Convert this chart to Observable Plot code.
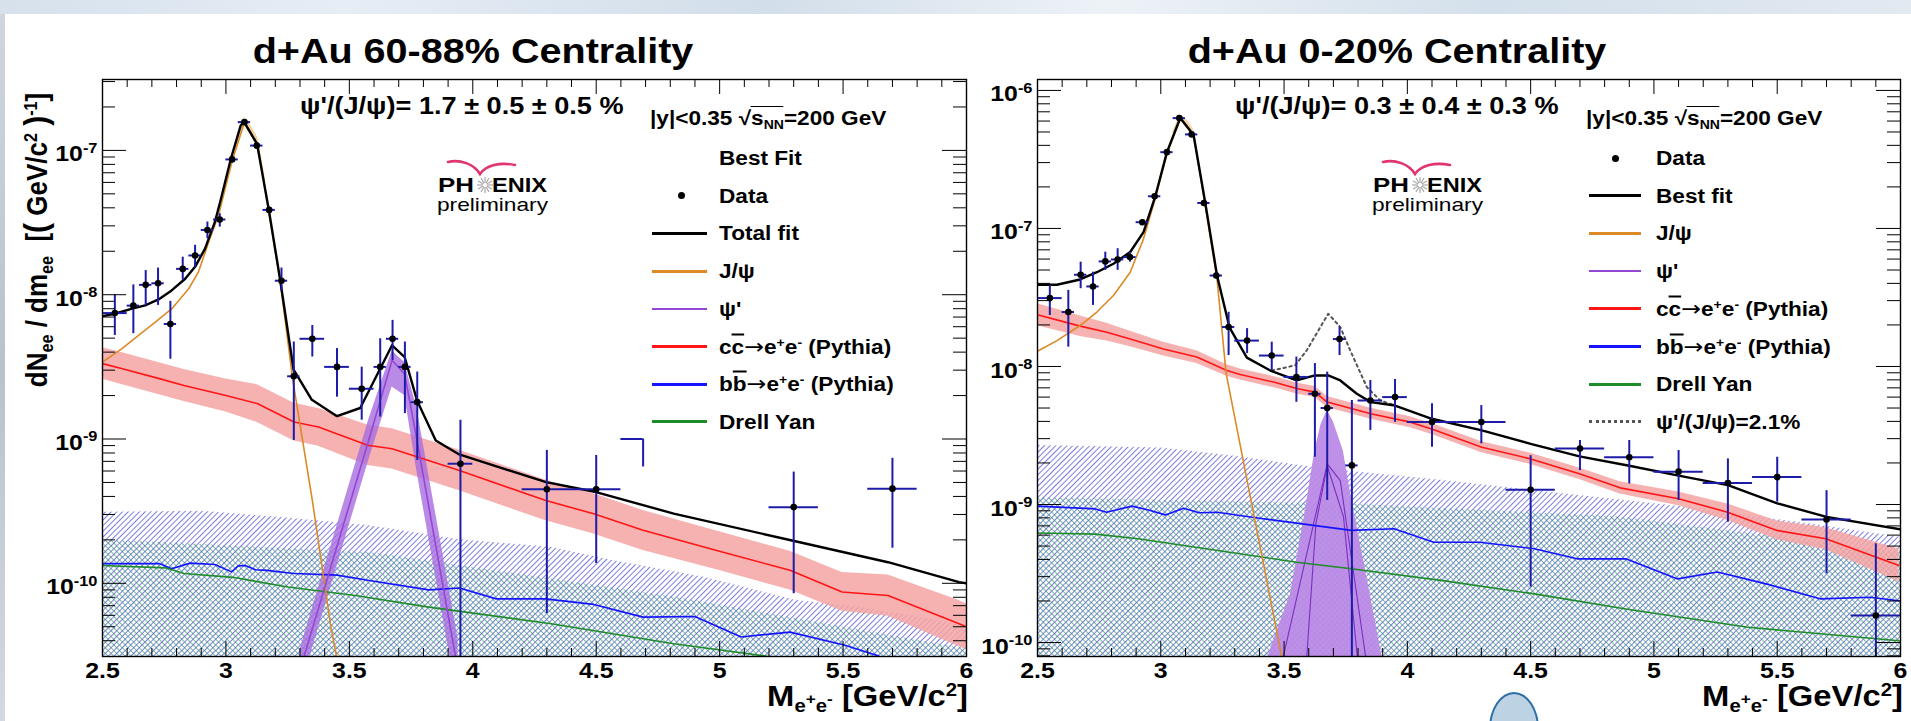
<!DOCTYPE html>
<html>
<head>
<meta charset="utf-8">
<title>d+Au dielectron invariant mass spectra</title>
<script src="https://cdn.jsdelivr.net/npm/d3@7"></script>
<script src="https://cdn.jsdelivr.net/npm/@observablehq/plot@0.6"></script>
<style>
  html, body { margin: 0; padding: 0; background: #fff; }
  #stage { position: relative; width: 1911px; height: 721px; overflow: hidden; background: #fff;
    font-family: "Liberation Sans", Arial, Helvetica, sans-serif; color: #000; }
  .lbl { position: absolute; white-space: nowrap; line-height: 1; }
  .sub { font-size: 0.62em; position: relative; top: 0.32em; }
  .sup { font-size: 0.62em; position: relative; top: -0.55em; }
  .ss { font-size: 0.85em; position: relative; top: -0.5em; }
  .ob { text-decoration: overline; text-decoration-thickness: 0.08em; }
  .arr { font-family: "DejaVu Sans", sans-serif; font-weight: normal; font-size: 1.05em; }
  .root { border-top: 0.08em solid #000; padding-top: 0.02em; }
  .host { position: absolute; top: 0; }
  .sw { position: absolute; height: 0; }
  .dotm { position: absolute; width: 7px; height: 7px; border-radius: 50%; background: #000; }
  #topband { position: absolute; left: 0; top: 0; width: 1911px; height: 14px;
    background: linear-gradient(90deg, #d6e1ec 0%, #e6edf5 18%, #d2deea 40%, #edf2f7 58%, #d4e0eb 78%, #e2e9f1 100%); }
  #leftedge { position: absolute; left: 0; top: 14px; width: 5px; height: 707px;
    background: linear-gradient(180deg, #cfd6de, #b9c2cc 50%, #d3d9e0); }
  #balloon { position: absolute; left: 1489px; top: 692px; width: 46px; height: 70px; border-radius: 50%;
    border: 2px solid #2f6ea6; background: #bdd3e4; }
</style>
</head>
<body>
<div id="stage">
  <div id="topband"></div>
  <div id="leftedge"></div>
  <div id="balloon"></div>
  <svg width="0" height="0" style="position:absolute">
    <defs>
      <pattern id="hatchBB" patternUnits="userSpaceOnUse" width="4" height="4" patternTransform="rotate(45)">
        <line x1="0" y1="0" x2="0" y2="4" stroke="#4a4ad2" stroke-width="1.45"/>
      </pattern>
      <pattern id="hatchDY" patternUnits="userSpaceOnUse" width="4" height="4" patternTransform="rotate(-45)">
        <line x1="0" y1="0" x2="0" y2="4" stroke="#2f9470" stroke-width="1.3"/>
      </pattern>
    </defs>
  </svg>
</div>
<script>
// ---------------- axes ----------------
const massDomain = [2.5, 6];
const massTickLabels = [2.5, 3, 3.5, 4, 4.5, 5, 5.5, 6];
const periphYDomain = [3.11e-11, 3.1e-7];
const centralYDomain = [7.92e-11, 1.2e-6];
const periphDecades = [1e-10, 1e-9, 1e-8, 1e-7];
const centralDecades = [1e-10, 1e-9, 1e-8, 1e-7, 1e-6];

// ---------------- d+Au 60-88% ----------------
const periphMass = [2.55, 2.625, 2.675, 2.725, 2.775, 2.825, 2.875, 2.925, 2.975, 3.025, 3.075, 3.125, 3.175, 3.225,
  3.275, 3.35, 3.45, 3.55, 3.625, 3.675, 3.725, 3.775, 3.95, 4.3, 4.5, 5.3, 5.7];
const periphHalfBin = [0.05, 0.025, 0.025, 0.025, 0.025, 0.025, 0.025, 0.025, 0.025, 0.025, 0.025, 0.025, 0.025, 0.025,
  0.025, 0.05, 0.05, 0.05, 0.025, 0.025, 0.025, 0.025, 0.05, 0.1, 0.1, 0.1, 0.1];
const periphYield = [7.46e-9, 8.4e-9, 1.17e-8, 1.2e-8, 6.27e-9, 1.51e-8, 1.87e-8, 2.81e-8, 3.32e-8, 8.66e-8, 1.57e-7, 1.08e-7, 3.87e-8, 1.25e-8,
  2.72e-9, 4.95e-9, 3.16e-9, 2.23e-9, 3.16e-9, 4.95e-9, 3.16e-9, 1.8e-9, 6.74e-10, 4.48e-10, 4.48e-10, 3.37e-10, 4.53e-10];
const periphLow = [5.22e-9, 5.37e-9, 8.43e-9, 8.43e-9, 3.57e-9, 1.26e-8, 1.55e-8, 2.44e-8, 2.94e-8, 8.3e-8, 1.52e-7, 1.04e-7, 3.74e-8, 1.06e-8,
  9.77e-10, 3.7e-9, 1.95e-9, 1.35e-9, 1.42e-9, 3.5e-9, 1.5e-9, 7.1e-10, 1e-11, 6.17e-11, 1.37e-10, 8.47e-11, 1.75e-10];
const periphHigh = [1.0e-8, 1.17e-8, 1.47e-8, 1.53e-8, 9.0e-9, 1.82e-8, 2.2e-8, 3.19e-8, 3.64e-8, 9.0e-8, 1.62e-7, 1.12e-7, 4.05e-8, 1.53e-8,
  4.7e-9, 6.12e-9, 4.23e-9, 3.15e-9, 4.95e-9, 6.64e-9, 4.7e-9, 2.91e-9, 1.35e-9, 8.34e-10, 7.69e-10, 5.9e-10, 7.35e-10];
// partially drawn error bar: [x1, x2, y, yLow]
const periphStrayBar = [[4.6, 4.69, 1.0e-9, 6.4e-10]];

const periphTotalFit = [[2.5, 7.1e-9], [2.55, 7.38e-9], [2.62, 8.0e-9], [2.673, 8.43e-9], [2.727, 9.27e-9], [2.78, 1.07e-8],
  [2.835, 1.29e-8], [2.875, 1.56e-8], [2.915, 2.08e-8], [2.955, 3.18e-8], [2.98, 4.62e-8], [3.02, 8.75e-8], [3.06, 1.49e-7],
  [3.074, 1.57e-7], [3.126, 1.11e-7], [3.173, 3.94e-8], [3.22, 1.26e-8], [3.274, 3.02e-9], [3.348, 1.87e-9], [3.45, 1.44e-9],
  [3.544, 1.64e-9], [3.673, 4.46e-9], [3.724, 3.7e-9], [3.774, 1.85e-9], [3.85, 9.77e-10], [3.945, 7.82e-10], [4.297, 5.02e-10],
  [4.499, 4.29e-10], [4.814, 3.04e-10], [5.293, 1.98e-10], [5.682, 1.4e-10], [5.97, 1.02e-10], [6.0, 1.0e-10]];
const periphJpsi = [[2.5, 3.41e-9], [2.579, 4.23e-9], [2.646, 5.22e-9], [2.714, 6.46e-9], [2.781, 8.0e-9], [2.849, 1.1e-8],
  [2.889, 1.44e-8], [2.93, 2.32e-8], [2.97, 3.55e-8], [3.024, 8.3e-8], [3.074, 1.55e-7], [3.13, 1.07e-7], [3.173, 3.8e-8],
  [3.22, 1.23e-8], [3.271, 2.55e-9], [3.35, 3.76e-10], [3.425, 5.0e-11], [3.47, 2.0e-11]];
const periphJpsiBand = [[3.04, 1.0e-7, 1.12e-7], [3.074, 1.52e-7, 1.7e-7], [3.1, 1.28e-7, 1.5e-7], [3.13, 1.05e-7, 1.22e-7], [3.16, 5.6e-8, 6.4e-8]];
const periphPsi2 = [[3.3, 2.5e-11], [3.578, 9.77e-10], [3.673, 3.51e-9], [3.724, 2.82e-9], [3.774, 9.77e-10], [3.94, 2.5e-11]];
const periphPsi2Band = [[3.3, 1.82e-11, 3.47e-11], [3.578, 7.08e-10, 1.35e-9], [3.673, 2.29e-9, 4.07e-9], [3.724, 2.0e-9, 3.39e-9],
  [3.774, 5.9e-10, 1.62e-9], [3.94, 1.51e-11, 4.17e-11]];
const periphCharm = [[2.5, 3.33e-9], [2.581, 3.07e-9], [2.73, 2.62e-9], [2.83, 2.35e-9], [3.0, 2.0e-9], [3.127, 1.76e-9],
  [3.276, 1.31e-9], [3.375, 1.21e-9], [3.574, 9.04e-10], [3.673, 8.57e-10], [3.946, 6.05e-10], [4.293, 3.76e-10], [4.49, 3.03e-10],
  [4.69, 2.33e-10], [4.988, 1.69e-10], [5.285, 1.23e-10], [5.496, 8.7e-11], [5.682, 8.24e-11], [5.97, 5.25e-11], [6.0, 5.0e-11]];
const periphCharmBand = [[2.5, 2.59e-9, 4.29e-9], [2.581, 2.38e-9, 3.96e-9], [2.73, 2.03e-9, 3.37e-9], [2.83, 1.82e-9, 3.03e-9],
  [3.0, 1.54e-9, 2.6e-9], [3.127, 1.3e-9, 2.38e-9], [3.276, 9.7e-10, 1.77e-9], [3.375, 8.9e-10, 1.63e-9], [3.574, 6.55e-10, 1.25e-9],
  [3.673, 6.2e-10, 1.18e-9], [3.946, 4.38e-10, 8.35e-10], [4.293, 2.72e-10, 5.19e-10], [4.49, 2.2e-10, 4.18e-10], [4.69, 1.69e-10, 3.2e-10],
  [4.988, 1.24e-10, 2.3e-10], [5.285, 9.0e-11, 1.67e-10], [5.496, 6.4e-11, 1.19e-10], [5.682, 5.9e-11, 1.14e-10], [5.97, 3.63e-11, 7.6e-11],
  [6.0, 3.46e-11, 7.2e-11]];
const periphBottom = [[2.5, 1.37e-10], [2.73, 1.37e-10], [2.78, 1.26e-10], [2.855, 1.38e-10], [2.955, 1.35e-10], [3.023, 1.2e-10],
  [3.05, 1.32e-10], [3.078, 1.33e-10], [3.12, 1.24e-10], [3.165, 1.23e-10], [3.276, 1.17e-10], [3.45, 1.14e-10], [3.574, 1.05e-10],
  [3.822, 9.0e-11], [3.946, 9.27e-11], [4.095, 7.8e-11], [4.293, 7.8e-11], [4.49, 7.14e-11], [4.69, 5.83e-11], [4.9, 5.89e-11],
  [5.087, 4.25e-11], [5.285, 4.59e-11], [5.508, 3.72e-11], [5.645, 3.13e-11], [5.75, 2.5e-11]];
const periphDrellYan = [[2.5, 1.33e-10], [2.755, 1.28e-10], [2.83, 1.17e-10], [3.028, 1.1e-10], [3.251, 9.42e-11], [3.524, 8.24e-11],
  [3.822, 6.84e-11], [4.318, 5.25e-11], [4.814, 3.81e-11], [5.186, 3.13e-11], [5.3, 2.8e-11]];
const periphBottomBand = [[2.5, 3.11e-10], [2.9, 3.16e-10], [3.2, 2.88e-10], [3.574, 2.52e-10], [3.946, 2.0e-10], [4.318, 1.78e-10],
  [4.566, 1.44e-10], [4.938, 1.1e-10], [5.31, 7.6e-11], [5.558, 6.84e-11], [5.97, 5.25e-11], [6.0, 5.1e-11]];
const periphDrellYanBand = [[2.5, 2.0e-10], [3.6, 1.62e-10], [4.84, 7.9e-11], [6.0, 3.5e-11]];

// ---------------- d+Au 0-20% ----------------
const centralMass = [2.55, 2.625, 2.675, 2.725, 2.775, 2.825, 2.875, 2.925, 2.975, 3.025, 3.075, 3.125, 3.175, 3.225,
  3.275, 3.35, 3.45, 3.55, 3.625, 3.675, 3.725, 3.775, 3.85, 3.95, 4.1, 4.3, 4.5, 4.7, 4.9, 5.1, 5.3, 5.5, 5.7, 5.9];
const centralHalfBin = [0.05, 0.025, 0.025, 0.025, 0.025, 0.025, 0.025, 0.025, 0.025, 0.025, 0.025, 0.025, 0.025, 0.025,
  0.025, 0.05, 0.05, 0.05, 0.025, 0.025, 0.025, 0.025, 0.05, 0.05, 0.1, 0.1, 0.1, 0.1, 0.1, 0.1, 0.1, 0.1, 0.1, 0.1];
const centralYield = [3.13e-8, 2.48e-8, 4.62e-8, 3.8e-8, 5.77e-8, 5.96e-8, 6.2e-8, 1.11e-7, 1.71e-7, 3.57e-7, 6.3e-7, 4.8e-7, 1.53e-7, 4.56e-8,
  1.93e-8, 1.54e-8, 1.2e-8, 8.4e-9, 6.34e-9, 5.0e-9, 1.58e-8, 1.92e-9, 5.67e-9, 6.0e-9, 3.96e-9, 3.96e-9, 1.28e-9, 2.54e-9,
  2.2e-9, 1.73e-9, 1.43e-9, 1.58e-9, 7.78e-10, 1.57e-10];
const centralLow = [2.34e-8, 1.38e-8, 3.66e-8, 2.77e-8, 4.97e-8, 4.97e-8, 5.7e-8, 1.06e-7, 1.66e-7, 3.47e-7, 6.1e-7, 4.65e-7, 1.48e-7, 4.3e-8,
  1.2e-8, 1.24e-8, 9.35e-9, 5.5e-9, 2.2e-9, 1.07e-9, 1.2e-8, 1e-11, 3.44e-9, 3.94e-9, 2.6e-9, 2.75e-9, 2.52e-10, 1.76e-9,
  1.41e-9, 1.07e-9, 7.44e-10, 1.04e-9, 3.15e-10, 1e-11];
const centralHigh = [3.86e-8, 3.56e-8, 5.7e-8, 4.82e-8, 6.73e-8, 7.13e-8, 6.7e-8, 1.16e-7, 1.76e-7, 3.67e-7, 6.5e-7, 4.95e-7, 1.58e-7, 4.8e-8,
  2.47e-8, 1.88e-8, 1.5e-8, 1.17e-8, 1.05e-8, 9.1e-9, 1.93e-8, 5.67e-9, 7.92e-9, 8.05e-9, 5.37e-9, 5.21e-9, 2.26e-9, 2.91e-9,
  2.91e-9, 2.46e-9, 2.14e-9, 2.2e-9, 1.26e-9, 5.19e-10];

const centralBestFit = [[2.5, 3.91e-8], [2.579, 3.91e-8], [2.673, 4.27e-8], [2.741, 4.82e-8], [2.808, 5.55e-8], [2.876, 6.75e-8],
  [2.93, 9.4e-8], [2.977, 1.69e-7], [3.025, 3.57e-7], [3.079, 6.31e-7], [3.133, 4.76e-7], [3.18, 1.55e-7], [3.228, 4.57e-8],
  [3.279, 1.91e-8], [3.349, 1.16e-8], [3.444, 9.35e-9], [3.551, 7.92e-9], [3.625, 8.61e-9], [3.679, 8.61e-9], [3.728, 7.92e-9],
  [3.795, 6.34e-9], [3.852, 5.52e-9], [3.95, 5.21e-9], [4.099, 4.18e-9], [4.302, 3.44e-9], [4.5, 2.75e-9], [4.698, 2.23e-9],
  [4.9, 1.91e-9], [5.1, 1.62e-9], [5.3, 1.38e-9], [5.5, 1.02e-9], [5.7, 8.13e-10], [6.0, 6.61e-10]];
const centralJpsi = [[2.5, 1.29e-8], [2.579, 1.54e-8], [2.673, 1.98e-8], [2.741, 2.48e-8], [2.808, 3.27e-8], [2.876, 4.82e-8],
  [2.93, 8.41e-8], [2.977, 1.64e-7], [3.025, 3.48e-7], [3.079, 6.24e-7], [3.133, 4.74e-7], [3.18, 1.48e-7], [3.228, 4.32e-8],
  [3.265, 8.91e-9], [3.49, 7.94e-11], [3.51, 5.0e-11]];
const centralJpsiBand = [[3.05, 4.6e-7, 5.1e-7], [3.079, 6.1e-7, 6.7e-7], [3.11, 5.2e-7, 6.0e-7], [3.133, 4.6e-7, 5.2e-7]];
const centralPsi2Band = [[3.4, 5.0e-11], [3.452, 9.77e-11], [3.526, 2.25e-10], [3.586, 8.9e-10], [3.625, 2.45e-9], [3.65, 3.8e-9],
  [3.675, 4.79e-9], [3.7, 3.98e-9], [3.74, 2.45e-9], [3.775, 1.07e-9], [3.849, 2.25e-10], [3.897, 7.94e-11], [3.91, 5.0e-11]];
const centralPsi2Fit = [[3.49, 7.0e-11], [3.565, 2.69e-10], [3.675, 1.97e-9], [3.728, 1.49e-9], [3.835, 7.0e-11]];
const centralPsi2FitAlt = [[3.59, 7.0e-11], [3.629, 7.24e-10], [3.675, 1.91e-9], [3.741, 8.13e-10], [3.8, 7.0e-11]];
const centralPsi2Fixed = [[3.45, 9.33e-9], [3.545, 1.02e-8], [3.592, 1.31e-8], [3.679, 2.41e-8], [3.728, 1.93e-8], [3.768, 1.31e-8],
  [3.836, 7.08e-9], [3.89, 5.67e-9], [3.95, 5.21e-9]];
const centralCharm = [[2.5, 2.37e-8], [2.673, 1.96e-8], [2.781, 1.77e-8], [2.876, 1.58e-8], [3.011, 1.34e-8], [3.146, 1.17e-8],
  [3.268, 9.35e-9], [3.322, 8.75e-9], [3.457, 7.71e-9], [3.551, 6.92e-9], [3.625, 6.52e-9], [3.675, 5.52e-9], [3.852, 4.54e-9],
  [4.012, 3.95e-9], [4.099, 3.53e-9], [4.302, 2.6e-9], [4.5, 2.14e-9], [4.698, 1.67e-9], [4.863, 1.32e-9], [5.1, 1.1e-9],
  [5.299, 8.79e-10], [5.499, 6.49e-10], [5.697, 5.64e-10], [5.994, 3.61e-10]];
const centralCharmBand = [[2.5, 1.97e-8, 2.85e-8], [2.673, 1.65e-8, 2.32e-8], [2.781, 1.53e-8, 2.06e-8], [2.876, 1.39e-8, 1.8e-8],
  [3.011, 1.19e-8, 1.5e-8], [3.146, 1.05e-8, 1.3e-8], [3.268, 8.5e-9, 1.03e-8], [3.322, 7.98e-9, 9.6e-9], [3.457, 7.03e-9, 8.45e-9],
  [3.551, 6.31e-9, 7.58e-9], [3.625, 5.95e-9, 7.15e-9], [3.675, 5.04e-9, 6.05e-9], [3.852, 4.14e-9, 4.98e-9], [4.012, 3.6e-9, 4.33e-9],
  [4.099, 3.22e-9, 3.87e-9], [4.302, 2.37e-9, 2.85e-9], [4.5, 1.95e-9, 2.35e-9], [4.698, 1.52e-9, 1.84e-9], [4.863, 1.19e-9, 1.46e-9],
  [5.1, 9.8e-10, 1.23e-9], [5.299, 7.66e-10, 1.01e-9], [5.499, 5.55e-10, 7.6e-10], [5.697, 4.7e-10, 6.78e-10], [5.994, 2.74e-10, 4.76e-10]];
const centralBottom = [[2.5, 9.73e-10], [2.735, 9.29e-10], [2.78, 8.79e-10], [2.883, 9.73e-10], [2.95, 9.12e-10], [3.019, 8.41e-10],
  [3.093, 9.4e-10], [3.155, 8.71e-10], [3.229, 8.79e-10], [3.37, 8.09e-10], [3.551, 7.33e-10], [3.773, 6.49e-10], [3.946, 6.67e-10],
  [4.107, 5.33e-10], [4.293, 5.33e-10], [4.515, 4.78e-10], [4.688, 4.04e-10], [4.886, 4.04e-10], [5.096, 2.89e-10], [5.257, 3.24e-10],
  [5.455, 2.66e-10], [5.677, 2.07e-10], [5.875, 2.13e-10], [5.994, 2.01e-10]];
const centralDrellYan = [[2.5, 6.21e-10], [2.735, 6.1e-10], [2.908, 5.64e-10], [3.279, 4.51e-10], [3.551, 3.82e-10], [3.773, 3.42e-10],
  [4.144, 2.81e-10], [4.515, 2.25e-10], [4.886, 1.75e-10], [5.381, 1.29e-10], [5.994, 1.03e-10]];
const centralBottomBand = [[2.5, 2.68e-9], [3.0, 2.57e-9], [3.3, 2.24e-9], [3.65, 1.82e-9], [4.144, 1.49e-9], [4.638, 1.19e-9],
  [5.133, 9.57e-10], [5.629, 7.24e-10], [6.0, 5.79e-10]];
const centralDrellYanBand = [[2.5, 1.12e-9], [3.8, 1.0e-9], [4.86, 8.13e-10], [6.0, 4.47e-10]];

// ---------------- text ----------------
const periphTitle = "d+Au 60-88% Centrality";
const centralTitle = "d+Au 0-20% Centrality";
const periphRatio = "ψ'/(J/ψ)= 1.7 ± 0.5 ± 0.5 %";
const centralRatio = "ψ'/(J/ψ)= 0.3 ± 0.4 ± 0.3 %";
const kinematics = "|y|&lt;0.35 √<span class='root'>s<span class='sub'>NN</span></span>=200 GeV";
const charmLabel = "c<span class='ob'>c</span><span class='arr'>→</span>e<span class='sup'>+</span>e<span class='sup'>-</span> (Pythia)";
const bottomLabel = "b<span class='ob'>b</span><span class='arr'>→</span>e<span class='sup'>+</span>e<span class='sup'>-</span> (Pythia)";
const periphLegendLabels = ["Best Fit", "Data", "Total fit", "J/ψ", "ψ'", charmLabel, bottomLabel, "Drell Yan"];
const centralLegendLabels = ["Data", "Best fit", "J/ψ", "ψ'", charmLabel, bottomLabel, "Drell Yan", "ψ'/(J/ψ)=2.1%"];

// ---------------- styles ----------------
const FONT = "'Liberation Sans', Arial, Helvetica, sans-serif";
const STRETCH = 1.13;
const C = {
  total: "#000000", jpsi: "#dc8a26", jpsiBand: "#f3c88f", psi2: "#9447d2", psi2Band: "#a86ee0", psi2Fill: "#bb8ae6",
  charm: "#ff1515", charmBand: "#f4a3a3", bottom: "#1414ff", dy: "#1f8c2a", err: "#1c1ca8", fixed: "#555555"
};
const swatchStyle = {
  "Best Fit": null, "Data": "dot", "Total fit": [C.total, 3, "solid"], "Best fit": [C.total, 3, "solid"],
  "J/ψ": [C.jpsi, 3, "solid"], "ψ'": [C.psi2, 2.5, "solid"], [charmLabel]: [C.charm, 3, "solid"],
  [bottomLabel]: [C.bottom, 3, "solid"], "Drell Yan": [C.dy, 3, "solid"], "ψ'/(J/ψ)=2.1%": [C.fixed, 3, "dotted"]
};

const stage = document.getElementById("stage");
const X = d => d[0], Y = d => d[1];

function label(html, x, y, size, anchor = "start", weight = "bold") {
  const d = document.createElement("div");
  d.className = "lbl";
  d.innerHTML = html;
  d.style.left = x + "px";
  d.style.top = y + "px";
  d.style.fontSize = size + "px";
  d.style.fontWeight = weight;
  const tx = anchor === "start" ? "0%" : anchor === "middle" ? "-50%" : "-100%";
  d.style.transformOrigin = (anchor === "start" ? "0%" : anchor === "middle" ? "50%" : "100%") + " 50%";
  d.style.transform = `translate(${tx}, -50%) scaleX(${STRETCH})`;
  stage.appendChild(d);
  return d;
}

function minorLogTicks([lo, hi]) {
  const out = [];
  for (let e = Math.floor(Math.log10(lo)); e <= Math.ceil(Math.log10(hi)); e++)
    for (let k = 2; k <= 9; k++) { const v = k * Math.pow(10, e); if (v > lo && v < hi) out.push(v); }
  return out;
}

function dataMarks(mass, yld, half, low, high) {
  const rows = mass.map((m, i) => ({m, v: yld[i], hb: half[i], lo: low[i], hi: high[i]}));
  return [
    Plot.ruleX(rows, {x: "m", y1: "lo", y2: "hi", stroke: C.err, strokeWidth: 2, clip: true}),
    Plot.ruleY(rows, {y: "v", x1: d => d.m - d.hb, x2: d => d.m + d.hb, stroke: C.err, strokeWidth: 2, clip: true}),
    Plot.dot(rows, {x: "m", y: "v", r: 3.3, fill: "#000", stroke: "none", clip: true})
  ];
}

function panel(hostLeft, width, marginRight, yDomain, decades, marks) {
  const H = 721, mL = 102, mT = 79, mB = 65;
  const innerW = width - mL - marginRight, innerH = H - mT - mB;
  const yMinor = minorLogTicks(yDomain);
  const xMinor = d3.range(26, 60).filter(k => k % 5 !== 0).map(k => k / 10);
  const svg = Plot.plot({
    width, height: H, marginLeft: mL, marginRight, marginTop: mT, marginBottom: mB,
    x: {domain: massDomain},
    y: {type: "log", domain: yDomain},
    style: {background: "transparent", fontFamily: FONT, overflow: "visible", maxWidth: "none"},
    marks: [
      ...marks,
      Plot.tickX(xMinor, {x: d => d, insetTop: innerH - 8, stroke: "#000"}),
      Plot.tickX(massTickLabels, {x: d => d, insetTop: innerH - 15, stroke: "#000"}),
      Plot.tickX(xMinor, {x: d => d, insetBottom: innerH - 8, stroke: "#000"}),
      Plot.tickX(massTickLabels, {x: d => d, insetBottom: innerH - 15, stroke: "#000"}),
      Plot.tickY(yMinor, {y: d => d, insetRight: innerW - 13, stroke: "#000"}),
      Plot.tickY(decades, {y: d => d, insetRight: innerW - 24, stroke: "#000"}),
      Plot.tickY(yMinor, {y: d => d, insetLeft: innerW - 13, stroke: "#000"}),
      Plot.tickY(decades, {y: d => d, insetLeft: innerW - 24, stroke: "#000"}),
      Plot.frame({stroke: "#000", strokeWidth: 1.4}),
      Plot.axisX(massTickLabels, {anchor: "bottom", tickSize: 0, tickPadding: 6, label: null,
        tickFormat: d => String(d), fontSize: 22, fontWeight: "bold"}),
      Plot.axisY(decades, {anchor: "left", tickSize: 0, tickPadding: 5, dy: 4, label: null,
        tickFormat: d => "10|" + Math.round(Math.log10(d)), fontSize: 22, fontWeight: "bold"})
    ]
  });
  const ns = "http://www.w3.org/2000/svg";
  svg.querySelectorAll('g[aria-label="y-axis tick label"] text').forEach(t => {
    const [base, exp] = t.textContent.split("|");
    t.textContent = base;
    const ts = document.createElementNS(ns, "tspan");
    ts.setAttribute("dy", "-0.6em");
    ts.setAttribute("font-size", "0.66em");
    ts.textContent = exp;
    t.appendChild(ts);
    t.setAttribute("transform", (t.getAttribute("transform") || "") + ` scale(${STRETCH},1)`);
  });
  svg.querySelectorAll('g[aria-label="x-axis tick label"] text').forEach(t => {
    t.setAttribute("transform", (t.getAttribute("transform") || "") + ` scale(${STRETCH},1)`);
  });
  const host = document.createElement("div");
  host.className = "host";
  host.style.left = hostLeft + "px";
  host.style.width = width + "px";
  host.appendChild(svg);
  stage.appendChild(host);
}

const FLOOR = 1e-12;

// left panel: d+Au 60-88%
panel(0, 980, 14, periphYDomain, periphDecades, [
  Plot.areaY(periphBottomBand, {x: X, y1: FLOOR, y2: Y, fill: "url(#hatchBB)", clip: true}),
  Plot.areaY(periphDrellYanBand, {x: X, y1: FLOOR, y2: Y, fill: "url(#hatchDY)", clip: true}),
  Plot.areaY(periphCharmBand, {x: X, y1: d => d[1], y2: d => d[2], fill: C.charmBand, fillOpacity: 0.85, clip: true}),
  Plot.areaY(periphPsi2Band, {x: X, y1: d => d[1], y2: d => d[2], fill: C.psi2Band, fillOpacity: 0.8, clip: true}),
  Plot.line(periphCharm, {x: X, y: Y, stroke: C.charm, strokeWidth: 1.6, clip: true}),
  Plot.line(periphBottom, {x: X, y: Y, stroke: C.bottom, strokeWidth: 1.6, clip: true}),
  Plot.line(periphDrellYan, {x: X, y: Y, stroke: C.dy, strokeWidth: 1.6, clip: true}),
  Plot.areaY(periphJpsiBand, {x: X, y1: d => d[1], y2: d => d[2], fill: C.jpsiBand, fillOpacity: 0.8, clip: true}),
  Plot.line(periphJpsi, {x: X, y: Y, stroke: C.jpsi, strokeWidth: 1.6, clip: true}),
  Plot.line(periphPsi2, {x: X, y: Y, stroke: C.psi2, strokeWidth: 1.6, clip: true}),
  Plot.line(periphTotalFit, {x: X, y: Y, stroke: C.total, strokeWidth: 2.4, clip: true}),
  ...dataMarks(periphMass, periphYield, periphHalfBin, periphLow, periphHigh),
  Plot.ruleY(periphStrayBar, {y: d => d[2], x1: d => d[0], x2: d => d[1], stroke: C.err, strokeWidth: 2, clip: true}),
  Plot.ruleX(periphStrayBar, {x: d => d[1], y1: d => d[3], y2: d => d[2], stroke: C.err, strokeWidth: 2, clip: true})
]);

// right panel: d+Au 0-20%
panel(935, 976, 11, centralYDomain, centralDecades, [
  Plot.areaY(centralBottomBand, {x: X, y1: FLOOR, y2: Y, fill: "url(#hatchBB)", clip: true}),
  Plot.areaY(centralDrellYanBand, {x: X, y1: FLOOR, y2: Y, fill: "url(#hatchDY)", clip: true}),
  Plot.areaY(centralPsi2Band, {x: X, y1: FLOOR, y2: Y, fill: C.psi2Fill, fillOpacity: 0.95, clip: true}),
  Plot.line(centralPsi2Fit, {x: X, y: Y, stroke: "#7a30c0", strokeWidth: 1.1, clip: true}),
  Plot.line(centralPsi2FitAlt, {x: X, y: Y, stroke: "#7a30c0", strokeWidth: 1.1, clip: true}),
  Plot.areaY(centralCharmBand, {x: X, y1: d => d[1], y2: d => d[2], fill: C.charmBand, fillOpacity: 0.85, clip: true}),
  Plot.line(centralCharm, {x: X, y: Y, stroke: C.charm, strokeWidth: 1.6, clip: true}),
  Plot.line(centralBottom, {x: X, y: Y, stroke: C.bottom, strokeWidth: 1.6, clip: true}),
  Plot.line(centralDrellYan, {x: X, y: Y, stroke: C.dy, strokeWidth: 1.6, clip: true}),
  Plot.areaY(centralJpsiBand, {x: X, y1: d => d[1], y2: d => d[2], fill: C.jpsiBand, fillOpacity: 0.8, clip: true}),
  Plot.line(centralJpsi, {x: X, y: Y, stroke: C.jpsi, strokeWidth: 1.6, clip: true}),
  Plot.line(centralPsi2Fixed, {x: X, y: Y, stroke: C.fixed, strokeWidth: 2, strokeDasharray: "2.5,3.5", clip: true}),
  Plot.line(centralBestFit, {x: X, y: Y, stroke: C.total, strokeWidth: 2.4, clip: true}),
  ...dataMarks(centralMass, centralYield, centralHalfBin, centralLow, centralHigh)
]);

// titles and annotations
label(periphTitle, 473, 50, 35, "middle");
label(centralTitle, 1397, 50, 35, "middle");
label(periphRatio, 300, 106, 24);
label(centralRatio, 1235, 106, 24);
label(kinematics, 650, 118, 20);
label(kinematics, 1586, 118, 20);

// axis titles
const massTitle = "M<span class='sub'>e<span class='ss'>+</span>e<span class='ss'>-</span></span> [GeV/c<span class='sup'>2</span>]";
label(massTitle, 968, 696, 29, "end");
label(massTitle, 1903, 696, 29, "end");
const yTitle = document.createElement("div");
yTitle.className = "lbl";
yTitle.style.cssText = "left:36px;top:240px;font-size:26px;font-weight:bold;transform:translate(-50%,-50%) rotate(-90deg) scaleY(1.13);";
yTitle.innerHTML = "dN<span class='sub'>ee</span> / dm<span class='sub'>ee</span>&nbsp;&nbsp;[<span style='font-size:1.15em'>(</span> GeV/c<span class='sup'>2</span> <span style='font-size:1.15em'>)</span><span class='sup'>-1</span>]";
stage.appendChild(yTitle);

// legends
function legend(labels, textX, swX1, swX2, dotX, y0, step) {
  labels.forEach((lab, i) => {
    const y = y0 + i * step;
    const s = swatchStyle[lab];
    if (s === "dot") {
      const d = document.createElement("div");
      d.className = "dotm";
      d.style.left = (dotX - 3.5) + "px";
      d.style.top = (y - 3.5) + "px";
      stage.appendChild(d);
    } else if (s) {
      const [color, w, kind] = s;
      const d = document.createElement("div");
      d.className = "sw";
      d.style.left = swX1 + "px";
      d.style.width = (swX2 - swX1) + "px";
      d.style.top = (y - w / 2) + "px";
      d.style.borderTop = `${w}px ${kind} ${color}`;
      stage.appendChild(d);
    }
    label(lab, textX, y, 20);
  });
}
legend(periphLegendLabels, 719, 652, 707, 681, 158, 37.7);
legend(centralLegendLabels, 1656, 1589, 1641, 1615, 158, 37.7);

// experiment logo
function logo(left, top) {
  const rays = d3.range(12).map(i => {
    const a = i * Math.PI / 6;
    return `<line x1="${(55 + 2 * Math.cos(a)).toFixed(2)}" y1="${(30 + 2 * Math.sin(a)).toFixed(2)}" x2="${(55 + 8 * Math.cos(a)).toFixed(2)}" y2="${(30 + 8 * Math.sin(a)).toFixed(2)}" stroke="#a8a8a8" stroke-width="1.2"/>`;
  }).join("");
  const d = document.createElement("div");
  d.style.cssText = `position:absolute;left:${left}px;top:${top}px;width:130px;height:70px;`;
  d.innerHTML = `<svg width="130" height="70" font-family="${FONT.replace(/'/g, "")}">
    <path d="M18,7 C30,4 44,9 50,19 C56,10 70,7 85,10" stroke="#e0356f" stroke-width="2.6" fill="none" stroke-linecap="round"/>
    <text x="8" y="37" font-size="21" font-weight="bold" textLength="36" lengthAdjust="spacingAndGlyphs">PH</text>
    ${rays}
    <text x="62" y="37" font-size="21" font-weight="bold" textLength="55" lengthAdjust="spacingAndGlyphs">ENIX</text>
    <text x="7" y="56" font-size="19" textLength="111" lengthAdjust="spacingAndGlyphs">preliminary</text>
  </svg>`;
  stage.appendChild(d);
}
logo(430, 155);
logo(1365, 155);
</script>
</body>
</html>
